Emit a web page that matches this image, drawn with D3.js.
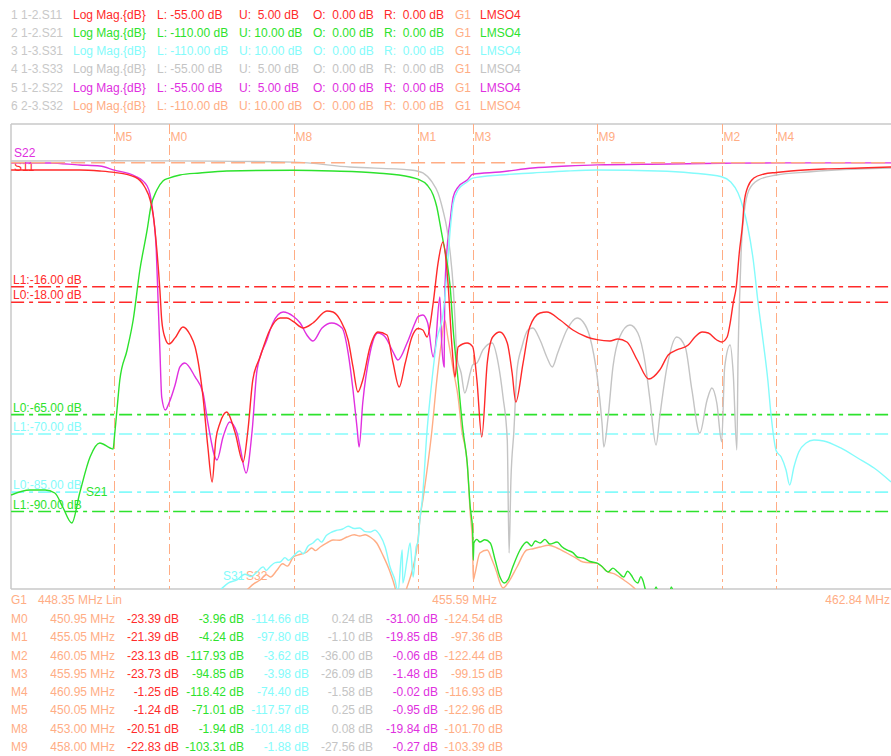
<!DOCTYPE html>
<html><head><meta charset="utf-8">
<script src="https://cdn.jsdelivr.net/npm/d3@7"></script>
<style>
html,body{margin:0;padding:0;background:#fff;}
svg{display:block;font-family:"Liberation Sans",Arial,sans-serif;font-size:12px;}
text{white-space:pre;}
</style></head><body>
<svg id="chart" width="891" height="756"></svg>
<script>
// Sweep settings
const startMHz = 448.35, stopMHz = 462.84, centerMHz = 455.59;

// Channel setup, one entry per trace
const traceIds    = ["1 1-2.S11","2 1-2.S21","3 1-3.S31","4 1-3.S33","5 1-2.S22","6 2-3.S32"];
const traceNames  = ["S11","S21","S31","S33","S22","S32"];
const traceLower  = [-55,-110,-110,-55,-55,-110];
const traceUpper  = [5,10,10,5,5,10];
const traceColors = ["#ff2a2a","#2de22d","#84fbfb","#c4c4c4","#e030e0","#ffad85"];

// Trace data: [frequency MHz, magnitude dB]
const s11 = [[448.35,-0.94],[449.48,-0.94],[449.81,-1.06],[450.05,-1.24],[450.39,-1.84],[450.55,-3.13],[450.64,-4.81],[450.69,-6.74],[450.75,-11.26],[450.80,-16.42],[450.83,-20.29],[450.88,-22.48],[450.95,-23.39],[451.05,-22.6],[451.18,-21.19],[451.30,-22.23],[451.38,-23.77],[451.51,-30.23],[451.59,-36.68],[451.66,-41.19],[451.72,-35.77],[451.79,-33.58],[451.90,-32.16],[452.04,-34.87],[452.17,-38.61],[452.25,-34.48],[452.33,-28.03],[452.45,-25.06],[452.61,-21.58],[452.78,-20.03],[452.89,-20.03],[453.00,-20.51],[453.16,-21.32],[453.32,-20.68],[453.55,-19.13],[453.65,-19.26],[453.77,-20.29],[453.90,-22.87],[453.98,-26.35],[454.06,-29.58],[454.14,-28.03],[454.26,-23.77],[454.39,-21.84],[454.54,-22.23],[454.64,-25.84],[454.74,-28.93],[454.84,-25.84],[454.95,-22.48],[455.05,-21.39],[455.13,-21.58],[455.20,-22.48],[455.30,-18.10],[455.38,-12.94],[455.46,-10.23],[455.54,-15.13],[455.61,-23.77],[455.66,-27.64],[455.71,-23.77],[455.86,-23.26],[455.95,-23.73],[456.02,-28.03],[456.10,-35.39],[456.19,-25.84],[456.28,-22.48],[456.40,-21.84],[456.52,-23.26],[456.60,-27.13],[456.66,-30.87],[456.78,-25.84],[456.89,-21.19],[457.06,-19.39],[457.17,-19.26],[457.39,-20.29],[457.60,-21.58],[457.83,-22.48],[458.00,-22.83],[458.21,-23.00],[458.34,-22.74],[458.49,-23.13],[458.66,-25.45],[458.85,-27.90],[459.03,-26.74],[459.17,-24.81],[459.31,-24.16],[459.50,-23.52],[459.61,-22.48],[459.73,-21.84],[459.83,-21.97],[459.97,-22.87],[460.05,-23.13],[460.14,-22.48],[460.19,-20.68],[460.24,-18.10],[460.29,-16.03],[460.34,-11.64],[460.40,-7.39],[460.42,-5.19],[460.48,-3.13],[460.58,-1.97],[460.75,-1.45],[460.95,-1.25],[461.19,-1.06],[461.73,-0.81],[462.34,-0.68],[462.84,-0.55]];

const s21 = [[448.35,-85.74],[448.66,-84.45],[448.91,-84.45],[449.07,-85.22],[449.20,-88.84],[449.35,-92.97],[449.48,-85.22],[449.65,-75.93],[449.81,-72.32],[449.98,-73.61],[450.03,-73.87],[450.05,-71.01],[450.09,-64.32],[450.14,-56.06],[450.26,-48.32],[450.36,-40.58],[450.47,-27.68],[450.59,-17.35],[450.65,-11.42],[450.75,-7.03],[450.85,-4.71],[450.95,-3.96],[451.13,-3.16],[451.46,-2.64],[451.90,-2.13],[453.00,-1.94],[453.65,-2.13],[454.37,-2.64],[454.92,-3.68],[455.05,-4.24],[455.20,-5.74],[455.30,-8.32],[455.36,-11.42],[455.41,-15.55],[455.46,-19.93],[455.53,-25.87],[455.58,-32.06],[455.63,-43.16],[455.71,-56.06],[455.79,-68.97],[455.86,-77.48],[455.91,-88.84],[455.95,-94.85],[455.96,-102.51],[455.97,-98.13],[456.02,-97.2],[456.07,-97.87],[456.15,-97.3],[456.24,-98.13],[456.32,-102.51],[456.40,-106.90],[456.47,-108.45],[456.53,-107.67],[456.61,-104.32],[456.73,-99.93],[456.84,-97.87],[456.92,-98.9],[456.98,-97.6],[457.06,-98.13],[457.14,-97.2],[457.22,-98.4],[457.34,-97.87],[457.42,-99.1],[457.50,-99.93],[457.60,-100.6],[457.68,-101.8],[457.77,-102.00],[457.88,-102.9],[458.00,-103.31],[458.08,-104.2],[458.18,-105.61],[458.26,-104.6],[458.34,-105.61],[458.44,-106.90],[458.50,-105.4],[458.56,-106.39],[458.62,-107.9],[458.67,-108.45],[458.72,-106.8],[458.75,-107.67],[458.82,-111.5],[458.90,-112.8],[458.97,-109.48],[459.03,-112.3],[459.17,-112.8],[459.22,-109.48],[459.30,-113.0],[460.05,-117.93],[460.95,-118.42],[462.84,-117.0]];

const s31 = [[448.35,-120.0],[450.05,-117.57],[450.95,-114.66],[451.62,-112.0],[451.79,-110.26],[451.93,-108.4],[452.07,-107.67],[452.20,-106.2],[452.30,-106.8],[452.40,-105.61],[452.50,-104.3],[452.55,-105.2],[452.61,-104.32],[452.70,-103.2],[452.78,-103.03],[452.86,-101.9],[452.92,-102.6],[453.00,-101.48],[453.10,-100.2],[453.16,-100.9],[453.24,-98.9],[453.32,-98.13],[453.40,-97.1],[453.46,-97.9],[453.54,-96.2],[453.60,-95.55],[453.70,-94.9],[453.81,-94.52],[453.90,-93.8],[454.00,-94.4],[454.09,-94.26],[454.18,-95.2],[454.26,-95.29],[454.34,-94.8],[454.42,-96.06],[454.51,-99.16],[454.59,-104.32],[454.67,-107.67],[454.72,-110.77],[454.79,-99.93],[454.80,-108.45],[454.87,-102.51],[454.92,-98.13],[454.97,-106.90],[455.02,-99.16],[455.05,-97.80],[455.08,-92.19],[455.12,-87.03],[455.20,-68.97],[455.28,-56.06],[455.36,-45.74],[455.46,-39.29],[455.53,-27.68],[455.58,-17.35],[455.63,-10.39],[455.71,-7.03],[455.86,-4.97],[455.95,-3.98],[456.40,-3.16],[456.94,-2.64],[457.50,-2.13],[458.00,-1.88],[459.00,-2.13],[459.55,-2.64],[460.05,-3.62],[460.20,-4.97],[460.32,-7.81],[460.40,-11.42],[460.48,-16.58],[460.57,-25.10],[460.65,-36.19],[460.73,-45.74],[460.81,-56.06],[460.86,-64.58],[460.95,-74.40],[461.03,-75.93],[461.11,-79.29],[461.17,-83.16],[461.24,-78.51],[461.32,-74.64],[461.44,-72.32],[461.57,-71.55],[461.73,-71.80],[462.01,-73.61],[462.29,-76.19],[462.56,-78.77],[462.84,-82.38]];

const s33 = [[448.35,0.23],[450.05,0.25],[450.95,0.24],[453.00,0.08],[453.93,-0.55],[454.92,-0.94],[455.05,-1.10],[455.13,-1.32],[455.28,-2.48],[455.38,-3.90],[455.46,-6.10],[455.53,-8.68],[455.58,-11.64],[455.63,-16.03],[455.66,-20.29],[455.69,-25.06],[455.76,-27.13],[455.82,-29.71],[455.91,-27.13],[455.95,-26.09],[456.02,-25.84],[456.12,-24.16],[456.27,-23.26],[456.37,-25.84],[456.45,-30.23],[456.52,-35.77],[456.55,-50.35],[456.58,-40.93],[456.63,-34.48],[456.68,-26.74],[456.76,-23.77],[456.86,-21.58],[456.94,-21.32],[457.06,-22.87],[457.17,-25.06],[457.26,-26.35],[457.35,-24.55],[457.50,-21.58],[457.67,-20.03],[457.77,-20.55],[457.88,-22.48],[458.00,-27.56],[458.08,-33.58],[458.11,-36.68],[458.18,-32.81],[458.26,-26.35],[458.37,-22.48],[458.54,-20.94],[458.67,-21.97],[458.79,-25.84],[458.87,-30.61],[458.97,-36.42],[459.03,-32.81],[459.15,-26.35],[459.31,-22.48],[459.45,-23.77],[459.56,-29.32],[459.69,-34.87],[459.81,-30.61],[459.89,-29.06],[459.97,-31.00],[460.05,-36.00],[460.10,-26.35],[460.19,-23.52],[460.24,-27.13],[460.30,-37.06],[460.32,-25.06],[460.35,-16.42],[460.37,-11.64],[460.42,-6.48],[460.50,-3.52],[460.65,-2.23],[460.95,-1.58],[461.47,-1.19],[462.29,-0.81],[462.84,-0.68]];

const s22 = [[448.35,-0.03],[448.99,-0.03],[449.48,-0.29],[449.81,-0.42],[450.05,-0.95],[450.39,-1.71],[450.59,-3.0],[450.64,-4.16],[450.69,-6.74],[450.74,-11.26],[450.77,-17.71],[450.80,-24.16],[450.83,-30.23],[450.89,-31.9],[450.95,-31.00],[451.05,-28.68],[451.13,-26.35],[451.21,-25.84],[451.38,-27.64],[451.51,-29.71],[451.59,-33.58],[451.74,-38.35],[451.84,-35.39],[451.95,-33.45],[452.07,-34.87],[452.12,-36.68],[452.22,-40.03],[452.32,-34.48],[452.40,-26.74],[452.56,-22.87],[452.66,-20.68],[452.83,-19.26],[453.00,-19.84],[453.11,-20.68],[453.22,-22.23],[453.32,-23.00],[453.47,-21.32],[453.63,-20.68],[453.80,-21.32],[453.90,-24.55],[453.98,-29.32],[454.05,-34.48],[454.08,-36.68],[454.14,-31.00],[454.26,-24.55],[454.39,-21.97],[454.51,-22.48],[454.64,-24.42],[454.72,-25.45],[454.87,-23.26],[455.00,-20.68],[455.05,-19.85],[455.13,-19.64],[455.21,-20.68],[455.30,-25.06],[455.33,-24.16],[455.41,-17.32],[455.44,-23.26],[455.48,-26.35],[455.49,-17.32],[455.53,-10.87],[455.58,-7.39],[455.63,-4.42],[455.71,-3.13],[455.86,-2.23],[455.95,-1.48],[456.40,-1.19],[456.94,-0.68],[457.50,-0.42],[458.00,-0.27],[459.17,-0.16],[460.05,-0.06],[460.95,-0.02],[462.84,-0.02]];

const s32 = [[448.35,-125.0],[450.05,-122.96],[450.95,-124.54],[451.95,-114.0],[452.23,-110.26],[452.35,-108.6],[452.45,-107.67],[452.55,-106.3],[452.62,-106.9],[452.73,-105.10],[452.82,-103.5],[452.90,-104.1],[453.00,-101.70],[453.10,-101.1],[453.22,-100.45],[453.30,-99.4],[453.36,-100.1],[453.44,-99.16],[453.55,-98.1],[453.65,-97.35],[453.76,-97.4],[453.88,-96.58],[454.00,-96.0],[454.09,-96.32],[454.18,-96.0],[454.26,-96.58],[454.37,-98.13],[454.47,-101.22],[454.59,-105.61],[454.67,-109.48],[454.70,-111.5],[454.79,-112.8],[454.87,-109.48],[454.97,-104.32],[455.05,-97.36],[455.08,-92.19],[455.13,-87.03],[455.28,-68.97],[455.36,-56.06],[455.44,-45.74],[455.49,-40.58],[455.54,-44.97],[455.63,-53.48],[455.71,-60.45],[455.77,-68.97],[455.86,-77.48],[455.91,-90.38],[455.95,-99.15],[455.96,-107.67],[455.99,-105.87],[456.07,-100.71],[456.19,-99.93],[456.27,-102.51],[456.35,-105.87],[456.40,-108.45],[456.45,-109.74],[456.53,-108.45],[456.68,-104.32],[456.84,-99.93],[456.95,-99.6],[457.06,-99.16],[457.20,-98.7],[457.34,-99.42],[457.50,-100.71],[457.64,-101.9],[457.77,-103.03],[458.00,-103.39],[458.18,-105.61],[458.30,-106.2],[458.44,-107.67],[458.61,-109.74],[458.71,-111.5],[460.05,-122.44],[460.95,-116.93],[462.84,-120.0]];

const traceData = [s11, s21, s31, s33, s22, s32];

// Markers and their readouts per trace
const markerNames = ["M0","M1","M2","M3","M4","M5","M8","M9"];
const markerFreqs = [450.95,455.05,460.05,455.95,460.95,450.05,453.00,458.00];
const mkS11 = [-23.39,-21.39,-23.13,-23.73,-1.25,-1.24,-20.51,-22.83];
const mkS21 = [-3.96,-4.24,-117.93,-94.85,-118.42,-71.01,-1.94,-103.31];
const mkS31 = [-114.66,-97.80,-3.62,-3.98,-74.40,-117.57,-101.48,-1.88];
const mkS33 = [0.24,-1.10,-36.00,-26.09,-1.58,0.25,0.08,-27.56];
const mkS22 = [-31.00,-19.85,-0.06,-1.48,-0.02,-0.95,-19.84,-0.27];
const mkS32 = [-124.54,-97.36,-122.44,-99.15,-116.93,-122.96,-101.70,-103.39];
const markerReadouts = [mkS11, mkS21, mkS31, mkS33, mkS22, mkS32];

// Limit lines: label, level and owning trace index
const limitLabels = ["L1:-16.00 dB","L0:-18.00 dB","L0:-65.00 dB","L1:-70.00 dB","L0:-85.00 dB","L1:-90.00 dB"];
const limitLevels = [-16,-18,-65,-70,-85,-90];
const limitTrace  = [0,0,1,2,2,1];

const salmon = "#ffad85", frameGray = "#c8c8c8", idGray = "#c8c8c8";

const svg = d3.select("#chart");

// Plot geometry
const plot = {left: 11.1, right: 891.1, top: 124, bottom: 589};
const x = d3.scaleLinear().domain([startMHz, stopMHz]).range([plot.left, plot.right]);
const yScales = traceLower.map((lo, i) =>
  d3.scaleLinear().domain([lo, traceUpper[i]]).range([plot.bottom, plot.top]));

// Header: channel settings table
const header = svg.append("g");
traceIds.forEach((id, i) => {
  const yy = 18.5 + i * 18.3;
  const c = traceColors[i];
  const row = header.append("g").attr("transform", `translate(0,${yy})`);
  const lo = traceLower[i].toFixed(2), up = traceUpper[i].toFixed(2);
  const cells = [
    [11, id, idGray],
    [73, "Log Mag.{dB}", c],
    [157, "L: " + lo + " dB", c],
    [239, "U: " + (up.length < 5 ? " " : "") + up + " dB", c],
    [313, "O:  0.00 dB", c],
    [384, "R:  0.00 dB", c],
    [455, "G1", salmon],
    [480, "LMSO4", c]
  ];
  cells.forEach(([cx, t, col]) => row.append("text").attr("x", cx).attr("y", 0).attr("fill", col).text(t));
});

// Plot frame
svg.append("defs").append("clipPath").attr("id", "plotClip")
  .append("rect").attr("x", plot.left).attr("y", plot.top)
  .attr("width", plot.right - plot.left).attr("height", plot.bottom - plot.top);

const frame = svg.append("g");
frame.append("line").attr("x1", 11).attr("x2", 891).attr("y1", plot.top).attr("y2", plot.top)
  .attr("stroke", frameGray).attr("stroke-width", 1.5);
frame.append("line").attr("x1", 11).attr("x2", 891).attr("y1", plot.bottom).attr("y2", plot.bottom)
  .attr("stroke", frameGray).attr("stroke-width", 1.5);
frame.append("line").attr("x1", 11).attr("x2", 11).attr("y1", plot.top).attr("y2", plot.bottom)
  .attr("stroke", frameGray).attr("stroke-width", 1.5);

const inner = svg.append("g").attr("clip-path", "url(#plotClip)");

// Limit lines with their labels
limitLevels.forEach((lv, i) => {
  const t = limitTrace[i];
  const yy = yScales[t](lv);
  inner.append("line").attr("x1", plot.left).attr("x2", plot.right).attr("y1", yy).attr("y2", yy)
    .attr("stroke", traceColors[t]).attr("stroke-width", 1.7).attr("stroke-dasharray", "13,5,4,5");
  inner.append("text").attr("x", 13).attr("y", yy - 3).attr("fill", traceColors[t]).text(limitLabels[i]);
});

// Marker lines and names
markerNames.forEach((m, i) => {
  const mx = Math.round(x(markerFreqs[i])) + 0.5;
  inner.append("line").attr("x1", mx).attr("x2", mx).attr("y1", plot.top).attr("y2", plot.bottom)
    .attr("stroke", salmon).attr("stroke-width", 1).attr("stroke-dasharray", "10,4,3,4");
  inner.append("text").attr("x", mx + 1).attr("y", 141).attr("fill", salmon).text(m);
});

// Trace name tags
const tags = [
  ["S22", 14, 157, 4], ["S11", 14, 171, 0],
  ["S21", 86, 496, 1], ["S31", 223, 580, 2], ["S32", 246, 580, 5]
];
tags.forEach(([t, tx, ty, ci]) => inner.append("text").attr("x", tx).attr("y", ty).attr("fill", traceColors[ci]).text(t));

// Traces, last channel first so S11 ends on top
const drawOrder = [5, 4, 3, 2, 1, 0];
drawOrder.forEach(i => {
  const ys = yScales[i];
  const line = d3.line()
    .x(d => x(d[0]))
    .y(d => ys(d[1]))
    .curve(d3.curveMonotoneX);
  inner.append("path").datum(traceData[i])
    .attr("fill", "none").attr("stroke", traceColors[i]).attr("stroke-width", 1.4)
    .attr("stroke-linejoin", "round").attr("d", line);
});

// 0 dB reference line
const refY = yScales[0](0);
inner.append("line").attr("x1", plot.left).attr("x2", plot.right).attr("y1", refY).attr("y2", refY)
  .attr("stroke", salmon).attr("stroke-width", 1.5).attr("stroke-dasharray", "14,6");

// Sweep axis annotation
const axisRow = svg.append("g").attr("fill", salmon);
axisRow.append("text").attr("x", 11).attr("y", 604).text("G1");
axisRow.append("text").attr("x", 38).attr("y", 604).text(startMHz.toFixed(2) + " MHz Lin");
axisRow.append("text").attr("x", 497).attr("y", 604).attr("text-anchor", "end").text(centerMHz.toFixed(2) + " MHz");
axisRow.append("text").attr("x", 890).attr("y", 604).attr("text-anchor", "end").text(stopMHz.toFixed(2) + " MHz");

// Marker readout table
const colEnds = [179, 244, 309, 373, 438, 503];
const table = svg.append("g");
markerNames.forEach((m, r) => {
  const yy = 623 + r * 18.25;
  table.append("text").attr("x", 11).attr("y", yy).attr("fill", salmon).text(m);
  table.append("text").attr("x", 115).attr("y", yy).attr("text-anchor", "end").attr("fill", salmon)
    .text(markerFreqs[r].toFixed(2) + " MHz");
  markerReadouts.forEach((vals, c) => {
    table.append("text").attr("x", colEnds[c]).attr("y", yy).attr("text-anchor", "end")
      .attr("fill", traceColors[c]).text(vals[r].toFixed(2) + " dB");
  });
});
</script>
</body></html>
